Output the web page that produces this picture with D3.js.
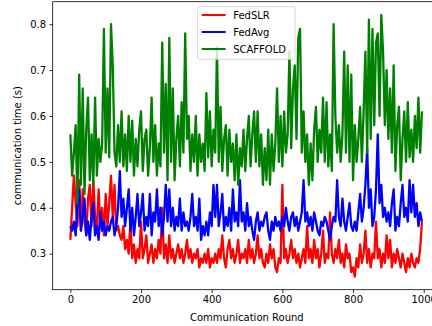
<!DOCTYPE html>
<html>
<head>
<meta charset="utf-8">
<script src="https://cdn.jsdelivr.net/npm/d3@7"></script>
<style>
  body { margin: 0; background: white; }
  svg { display: block; font-family: "DejaVu Sans", sans-serif; }
</style>
</head>
<body>
<div id="viz_area"></div>
<script>
var width = 432
var height = 326

// one value every 5 communication rounds
var roundStep = 5

var fedslr = [
  0.33, 0.40, 0.47, 0.41, 0.36, 0.46, 0.35, 0.44, 0.37, 0.34,
  0.42, 0.45, 0.36, 0.46, 0.38, 0.35, 0.44, 0.36, 0.40, 0.34,
  0.43, 0.36, 0.41, 0.47, 0.38, 0.45, 0.35, 0.36, 0.34, 0.33,
  0.36, 0.31, 0.33, 0.30, 0.37, 0.29, 0.32, 0.28, 0.31, 0.29,
  0.37, 0.29, 0.31, 0.34, 0.28, 0.30, 0.32, 0.28, 0.31, 0.29,
  0.33, 0.30, 0.40, 0.29, 0.32, 0.28, 0.34, 0.29, 0.31, 0.28,
  0.30, 0.32, 0.29, 0.31, 0.28, 0.30, 0.33, 0.29, 0.31, 0.28,
  0.30, 0.29, 0.31, 0.27, 0.29, 0.28, 0.30, 0.28, 0.31, 0.27,
  0.29, 0.28, 0.30, 0.28, 0.31, 0.29, 0.34, 0.29, 0.27, 0.31,
  0.33, 0.29, 0.31, 0.28, 0.30, 0.33, 0.28, 0.30, 0.29, 0.31,
  0.28, 0.33, 0.29, 0.31, 0.28, 0.30, 0.34, 0.29, 0.31, 0.28,
  0.27, 0.30, 0.28, 0.32, 0.29, 0.31, 0.27, 0.26, 0.29, 0.28,
  0.45, 0.29, 0.31, 0.28, 0.30, 0.33, 0.29, 0.31, 0.28, 0.30,
  0.27, 0.29, 0.31, 0.28, 0.36, 0.29, 0.31, 0.28, 0.33, 0.29,
  0.31, 0.27, 0.30, 0.35, 0.28, 0.30, 0.29, 0.39, 0.30, 0.28,
  0.31, 0.29, 0.33, 0.28, 0.30, 0.27, 0.32, 0.29, 0.30, 0.26,
  0.27, 0.25, 0.29, 0.27, 0.32, 0.28, 0.30, 0.35, 0.28, 0.31,
  0.27, 0.30, 0.29, 0.37, 0.29, 0.31, 0.27, 0.30, 0.28, 0.34,
  0.29, 0.33, 0.27, 0.30, 0.28, 0.31, 0.29, 0.27, 0.30, 0.28,
  0.26, 0.29, 0.27, 0.30, 0.28, 0.27, 0.29, 0.28, 0.31, 0.37
]

var fedavg = [
  0.36, 0.35, 0.37, 0.34, 0.41, 0.44, 0.35, 0.38, 0.42, 0.34,
  0.37, 0.33, 0.38, 0.41, 0.34, 0.36, 0.33, 0.39, 0.35, 0.37,
  0.34, 0.36, 0.35, 0.37, 0.38, 0.34, 0.36, 0.40, 0.48, 0.38,
  0.42, 0.36, 0.40, 0.44, 0.35, 0.40, 0.34, 0.38, 0.43, 0.36,
  0.39, 0.43, 0.35, 0.38, 0.36, 0.43, 0.34, 0.39, 0.37, 0.44,
  0.36, 0.40, 0.34, 0.38, 0.45, 0.37, 0.44, 0.36, 0.40, 0.35,
  0.38, 0.36, 0.42, 0.35, 0.39, 0.36, 0.37, 0.35, 0.38, 0.43,
  0.36, 0.38, 0.35, 0.42, 0.33, 0.36, 0.34, 0.37, 0.34, 0.39,
  0.36, 0.45, 0.38, 0.45, 0.36, 0.39, 0.43, 0.35, 0.38, 0.36,
  0.40, 0.35, 0.44, 0.37, 0.39, 0.36, 0.46, 0.37, 0.39, 0.35,
  0.41, 0.36, 0.38, 0.35, 0.33, 0.37, 0.39, 0.35, 0.37, 0.36,
  0.38, 0.39, 0.35, 0.33, 0.37, 0.35, 0.38, 0.36, 0.37, 0.35,
  0.38, 0.36, 0.40, 0.37, 0.35, 0.38, 0.39, 0.36, 0.38, 0.35,
  0.37, 0.39, 0.46, 0.37, 0.39, 0.36, 0.38, 0.35, 0.39, 0.37,
  0.35, 0.34, 0.37, 0.36, 0.38, 0.37, 0.35, 0.33, 0.36, 0.38,
  0.37, 0.46, 0.38, 0.36, 0.42, 0.37, 0.35, 0.38, 0.41, 0.36,
  0.35, 0.37, 0.35, 0.39, 0.43, 0.37, 0.40, 0.45, 0.53, 0.40,
  0.44, 0.36, 0.38, 0.44, 0.56, 0.41, 0.45, 0.38, 0.40, 0.37,
  0.39, 0.36, 0.41, 0.44, 0.35, 0.38, 0.36, 0.41, 0.45, 0.38,
  0.40, 0.37, 0.46, 0.39, 0.45, 0.38, 0.41, 0.36, 0.39, 0.37
]

var scaffold = [
  0.56, 0.47, 0.52, 0.58, 0.41, 0.69, 0.45, 0.66, 0.43, 0.57,
  0.64, 0.46, 0.56, 0.45, 0.64, 0.47, 0.55, 0.50, 0.54, 0.79,
  0.52, 0.66, 0.51, 0.80, 0.71, 0.52, 0.49, 0.58, 0.50, 0.61,
  0.49, 0.56, 0.48, 0.60, 0.50, 0.59, 0.47, 0.55, 0.49, 0.57,
  0.61, 0.48, 0.55, 0.57, 0.47, 0.53, 0.64, 0.50, 0.58, 0.47,
  0.54, 0.49, 0.76, 0.52, 0.67, 0.46, 0.77, 0.50, 0.66, 0.46,
  0.55, 0.60, 0.49, 0.63, 0.52, 0.78, 0.55, 0.60, 0.48, 0.56,
  0.50, 0.60, 0.47, 0.56, 0.50, 0.54, 0.48, 0.65, 0.51, 0.61,
  0.49, 0.57, 0.52, 0.75, 0.50, 0.62, 0.48, 0.55, 0.58, 0.47,
  0.57, 0.50, 0.54, 0.46, 0.56, 0.45, 0.53, 0.49, 0.57, 0.48,
  0.55, 0.60, 0.49, 0.56, 0.61, 0.50, 0.61, 0.49, 0.56, 0.45,
  0.53, 0.46, 0.57, 0.45, 0.56, 0.48, 0.54, 0.66, 0.50, 0.60,
  0.49, 0.61, 0.52, 0.56, 0.74, 0.53, 0.66, 0.71, 0.55, 0.77,
  0.79, 0.52, 0.61, 0.50, 0.56, 0.45, 0.54, 0.46, 0.57, 0.62,
  0.50, 0.57, 0.52, 0.64, 0.50, 0.63, 0.49, 0.56, 0.48, 0.80,
  0.60, 0.52, 0.58, 0.50, 0.56, 0.74, 0.52, 0.71, 0.50, 0.69,
  0.46, 0.58, 0.50, 0.55, 0.62, 0.50, 0.61, 0.74, 0.52, 0.81,
  0.55, 0.79, 0.58, 0.76, 0.78, 0.60, 0.82, 0.74, 0.58, 0.70,
  0.55, 0.66, 0.52, 0.71, 0.48, 0.58, 0.62, 0.46, 0.55, 0.61,
  0.50, 0.63, 0.51, 0.57, 0.50, 0.60, 0.53, 0.64, 0.52, 0.61
]

var seriesNames = ["FedSLR", "FedAvg", "SCAFFOLD"]
var seriesColors = ["#ff0000", "#0000ff", "#008000"]
var xTicks = [0, 200, 400, 600, 800, 1000]
var yTicks = [0.3, 0.4, 0.5, 0.6, 0.7, 0.8]

var margin = { top: 1.7, right: -9, bottom: 36.3, left: 52.7 }

var svg = d3.select("#viz_area")
  .append("svg")
  .attr("width", width)
  .attr("height", height)
  .style("background-color", "white")

var scX = d3.scaleLinear()
  .domain([-49.95, 1048.95])
  .range([margin.left, width - margin.right])

var scY = d3.scaleLinear()
  .domain([0.2215, 0.849])
  .range([height - margin.bottom, margin.top])

var allSeries = [fedslr, fedavg, scaffold].map(function (vals, k) {
  return {
    name: seriesNames[k],
    color: seriesColors[k],
    points: vals.map((v, i) => ({ round: i * roundStep, value: v }))
  }
})

var makeLine = d3.line()
  .x(d => scX(d.round))
  .y(d => scY(d.value))

svg.append("defs").append("clipPath").attr("id", "plotclip")
  .append("rect")
  .attr("x", margin.left).attr("y", margin.top)
  .attr("width", width - margin.right - margin.left)
  .attr("height", height - margin.bottom - margin.top)

svg.append("g")
  .attr("clip-path", "url(#plotclip)")
  .selectAll("path")
  .data(allSeries)
  .enter()
  .append("path")
  .attr("fill", "none")
  .attr("stroke", d => d.color)
  .attr("stroke-width", 2.3)
  .attr("stroke-linejoin", "round")
  .attr("d", d => makeLine(d.points))

// axes
var xAxis = svg.append("g")
  .attr("transform", `translate(0,${height - margin.bottom})`)
  .call(d3.axisBottom(scX).tickValues(xTicks).tickFormat(d3.format("d"))
    .tickSize(3.3).tickPadding(3.3).tickSizeOuter(0))
xAxis.select(".domain").remove()

var yAxis = svg.append("g")
  .attr("transform", `translate(${margin.left},0)`)
  .call(d3.axisLeft(scY).tickValues(yTicks).tickFormat(d3.format(".1f"))
    .tickSize(3.3).tickPadding(3.3).tickSizeOuter(0))
yAxis.select(".domain").remove()

svg.selectAll(".tick text")
  .style("font-size", "10px")
  .style("font-family", "DejaVu Sans")
  .attr("fill", "black")
svg.selectAll(".tick line").attr("stroke", "black").attr("stroke-width", 0.8)

// spines
svg.append("rect")
  .attr("x", margin.left)
  .attr("y", margin.top)
  .attr("width", width - margin.right - margin.left)
  .attr("height", height - margin.bottom - margin.top)
  .attr("fill", "none")
  .attr("stroke", "black")
  .attr("stroke-width", 0.8)

svg.append("text")
  .attr("x", (margin.left + width - margin.right) / 2)
  .attr("y", 321)
  .attr("text-anchor", "middle")
  .style("font-size", "10px")
  .text("Communication Round")

svg.append("text")
  .attr("transform", `translate(17,${(margin.top + height - margin.bottom) / 2}) rotate(-90)`)
  .attr("text-anchor", "middle")
  .attr("dy", "0.35em")
  .style("font-size", "10px")
  .text("communication time (s)")

// legend
var lg = svg.append("g").attr("transform", "translate(197.7,6.7)")
lg.append("rect")
  .attr("width", 97.3)
  .attr("height", 52.6)
  .attr("rx", 2)
  .attr("fill", "white")
  .attr("fill-opacity", 0.8)
  .attr("stroke", "#cccccc")
  .attr("stroke-width", 0.8)

var rows = lg.selectAll("g.row")
  .data(allSeries)
  .enter()
  .append("g")
  .attr("class", "row")
  .attr("transform", (d, i) => `translate(0,${8.3 + i * 17})`)

rows.append("line")
  .attr("x1", 4).attr("x2", 28)
  .attr("stroke", d => d.color)
  .attr("stroke-width", 2)

rows.append("text")
  .attr("x", 35.5)
  .attr("dy", "0.35em")
  .style("font-size", "10px")
  .text(d => d.name)
</script>
</body>
</html>
